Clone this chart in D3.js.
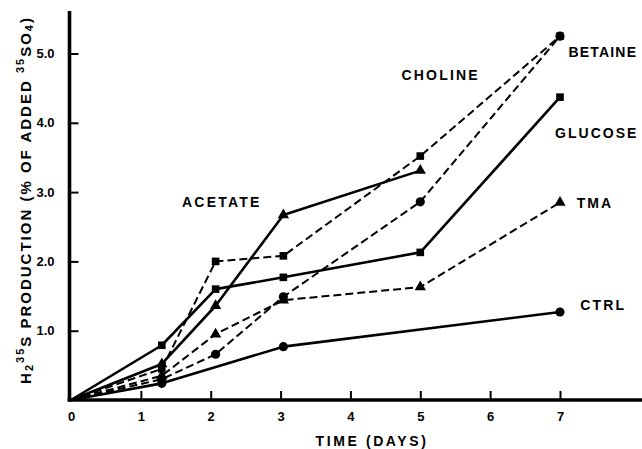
<!DOCTYPE html>
<html><head><meta charset="utf-8">
<script src="https://cdn.jsdelivr.net/npm/d3@7"></script>
<style>body{margin:0;background:#fff} svg{display:block}</style>
</head><body><svg id="chart" width="642" height="449"></svg>
<script>
// ---- data ----
const days        = [0, 1.3, 2.07, 3.04, 5, 7];
const acetateDays = [0, 1.3, 2.07, 3.04, 5];
const ctrlDays    = [0, 1.3, 3.04, 7];
const choline = [0, 0.45, 2.00, 2.08, 3.52, 5.25];
const betaine = [0, 0.30, 0.66, 1.49, 2.86, 5.25];
const acetate = [0, 0.52, 1.36, 2.67, 3.31];
const glucose = [0, 0.79, 1.60, 1.77, 2.13, 4.37];
const tma     = [0, 0.35, 0.95, 1.44, 1.63, 2.85];
const ctrl    = [0, 0.24, 0.77, 1.27];
const xTickValues = [0, 1, 2, 3, 4, 5, 6, 7];
const yTickValues = [1, 2, 3, 4, 5];
const yTickLabels = ["1.0", "2.0", "3.0", "4.0", "5.0"];
const seriesNames = ["CHOLINE", "BETAINE", "ACETATE", "GLUCOSE", "TMA", "CTRL"];

// ---- layout / styling ----
const svg = d3.select("#chart");
const x = d3.scaleLinear().domain([0, 7]).range([71, 560]);
const y = d3.scaleLinear().domain([0, 5]).range([400, 53.5]);

const series = [
  {name: "CHOLINE", t: days, v: choline, dash: "8,4", marker: "square", lw: 2},
  {name: "BETAINE", t: days, v: betaine, dash: "8,4", marker: "circle", lw: 2},
  {name: "ACETATE", t: acetateDays, v: acetate, dash: null, marker: "triangle", lw: 2.6},
  {name: "GLUCOSE", t: days, v: glucose, dash: null, marker: "square", lw: 2.6},
  {name: "TMA", t: days, v: tma, dash: "8,4", marker: "triangle", lw: 2},
  {name: "CTRL", t: ctrlDays, v: ctrl, dash: null, marker: "circle", lw: 2.6}
];
// label anchor (data units) and letter spacing for each series name
const labelAt = {
  CHOLINE: [4.73, 4.69], BETAINE: [7.12, 5.02], ACETATE: [1.59, 2.86],
  GLUCOSE: [6.93, 3.85], TMA: [7.24, 2.84], CTRL: [7.29, 1.37]
};
const labelSpacing = {CHOLINE: 2.2, BETAINE: 1.2, ACETATE: 2.2, GLUCOSE: 2.0, TMA: 2.0, CTRL: 2.2};

const font = "'Liberation Sans', Arial, Helvetica, sans-serif";

// axes
const xAxis = d3.axisBottom(x).tickValues(xTickValues).tickSize(-9).tickPadding(12).tickFormat(d3.format("d"));
const gx = svg.append("g").attr("transform", "translate(0,400)").call(xAxis);
gx.select(".domain").remove();
gx.selectAll(".tick line").attr("stroke", "#000").attr("stroke-width", 2).filter(d => d === 0).remove();
gx.selectAll(".tick text").attr("font-family", font).attr("font-size", 13).attr("font-weight", "bold").attr("fill", "#000");

const yAxis = d3.axisLeft(y).tickValues(yTickValues).tickSize(-9).tickPadding(15)
  .tickFormat((d, i) => yTickLabels[i]);
const gy = svg.append("g").attr("transform", "translate(69.5,0)").call(yAxis);
gy.select(".domain").remove();
gy.selectAll(".tick line").attr("stroke", "#000").attr("stroke-width", 2);
gy.selectAll(".tick text").attr("font-family", font).attr("font-size", 13).attr("font-weight", "bold").attr("fill", "#000");

// axis lines
svg.append("line").attr("x1", 69.5).attr("x2", 69.5).attr("y1", 11).attr("y2", 401.5)
  .attr("stroke", "#000").attr("stroke-width", 3.6);
svg.append("line").attr("x1", 67.7).attr("x2", 642).attr("y1", 400).attr("y2", 400)
  .attr("stroke", "#000").attr("stroke-width", 3.6);

// axis titles
svg.append("text").attr("x", 372).attr("y", 446).attr("text-anchor", "middle")
  .attr("font-family", font).attr("font-size", 14).attr("font-weight", "bold")
  .attr("letter-spacing", 2.6).text("TIME (DAYS)");

const yt = svg.append("text").attr("transform", "translate(25,200) rotate(-90)")
  .attr("text-anchor", "middle").attr("font-family", font).attr("font-size", 15)
  .attr("font-weight", "bold").attr("letter-spacing", 2).attr("dominant-baseline", "central");
yt.append("tspan").text("H");
yt.append("tspan").attr("dy", 4).attr("font-size", 11).text("2");
yt.append("tspan").attr("dy", -9).attr("font-size", 11).text("35");
yt.append("tspan").attr("dy", 5).text("S PRODUCTION (% OF ADDED ");
yt.append("tspan").attr("dy", -5).attr("font-size", 11).text("35");
yt.append("tspan").attr("dy", 5).text("SO");
yt.append("tspan").attr("dy", 4).attr("font-size", 11).text("4");
yt.append("tspan").attr("dy", -4).text(")");

// lines
const line = d3.line().x(d => x(d[0])).y(d => y(d[1]));
series.forEach(s => {
  const pts = s.t.map((t, i) => [t, s.v[i]]);
  svg.append("path").datum(pts).attr("d", line).attr("fill", "none")
    .attr("stroke", "#000").attr("stroke-width", s.lw)
    .attr("stroke-linejoin", "round")
    .attr("stroke-dasharray", s.dash);
});

// markers
const symType = {square: d3.symbolSquare, triangle: d3.symbolTriangle, circle: d3.symbolCircle};
const symSize = {square: 58, triangle: 55, circle: 66};
series.forEach(s => {
  const pts = s.t.map((t, i) => [t, s.v[i]]).filter(p => p[0] > 0);
  svg.append("g").selectAll("path").data(pts).join("path")
    .attr("transform", d => `translate(${x(d[0])},${y(d[1])})`)
    .attr("d", d3.symbol().type(symType[s.marker]).size(symSize[s.marker]))
    .attr("fill", "#000");
});

// series labels
svg.append("g").selectAll("text").data(seriesNames).join("text")
  .attr("x", d => x(labelAt[d][0])).attr("y", d => y(labelAt[d][1]))
  .attr("dy", "0.36em").attr("font-family", font).attr("font-size", 14)
  .attr("font-weight", "bold").attr("letter-spacing", d => labelSpacing[d]).text(d => d);
</script>
</body></html>
